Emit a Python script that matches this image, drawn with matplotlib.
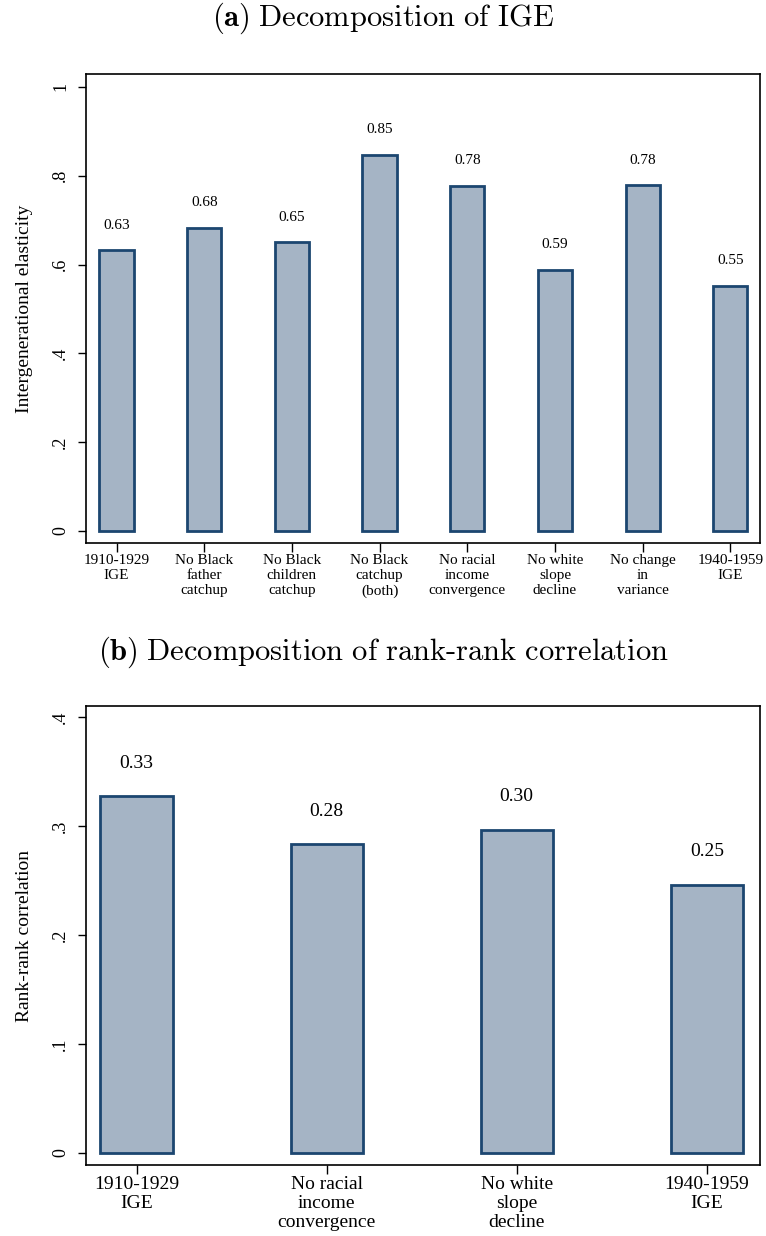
import matplotlib
matplotlib.use("Agg")
import matplotlib.pyplot as plt

# panel (a): IGE decomposition
ige_labels = ["1910-1929\nIGE", "No Black\nfather\ncatchup", "No Black\nchildren\ncatchup",
              "No Black\ncatchup\n(both)", "No racial\nincome\nconvergence", "No white\nslope\ndecline",
              "No change\nin\nvariance", "1940-1959\nIGE"]
ige_values = [0.632, 0.683, 0.650, 0.847, 0.777, 0.588, 0.778, 0.552]

# panel (b): rank-rank correlation decomposition
rank_labels = ["1910-1929\nIGE", "No racial\nincome\nconvergence", "No white\nslope\ndecline", "1940-1959\nIGE"]
rank_values = [0.327, 0.283, 0.296, 0.246]

plt.rcParams['font.family'] = ['Liberation Serif', 'DejaVu Serif']
plt.rcParams['mathtext.fontset'] = 'cm'

fill = '#a5b4c5'
edge = '#1c4670'

fig = plt.figure(figsize=(7.66, 12.36), dpi=100)
W, H = 766, 1236

def axes_px(x0, y0, x1, y1):
    return fig.add_axes([x0 / W, 1 - y1 / H, (x1 - x0) / W, (y1 - y0) / H])

def style(ax):
    for s in ax.spines.values():
        s.set_linewidth(1.2)
        s.set_color('black')
    ax.tick_params(axis='x', direction='out', length=6.5, width=1, pad=1.5)
    ax.tick_params(axis='y', direction='out', length=6, width=1, pad=6, rotation=90)
    for t in ax.get_yticklabels():
        t.set_va('center')

# ---- (a)
ax1 = axes_px(86, 74, 760, 543)
x = range(len(ige_values))
ax1.bar(x, ige_values, width=0.39, color=fill, edgecolor=edge, linewidth=2)
for i, v in enumerate(ige_values):
    ax1.annotate(f"{v:.2f}", (i, v), xytext=(0, 18), textcoords='offset points',
                 ha='center', va='center', fontsize=11)
ax1.set_xlim(-0.348, 7.338)
ax1.set_ylim(-0.027, 1.029)
ax1.set_yticks([0, 0.2, 0.4, 0.6, 0.8, 1.0])
ax1.set_yticklabels(["0", ".2", ".4", ".6", ".8", "1"], fontsize=13)
ax1.set_xticks(list(x))
ax1.set_xticklabels(ige_labels, fontsize=11, linespacing=1.2)
ax1.set_ylabel("Intergenerational elasticity", fontsize=14, labelpad=14)
style(ax1)
fig.text(0.5, 1 - 18 / H, r"$\mathbf{(a)}$ $\mathrm{Decomposition\ of\ IGE}$",
         ha='center', va='center', fontsize=22)

# ---- (b)
ax2 = axes_px(86, 706, 760, 1165)
x2 = range(len(rank_values))
ax2.bar(x2, rank_values, width=0.38, color=fill, edgecolor=edge, linewidth=2)
for i, v in enumerate(rank_values):
    ax2.annotate(f"{v:.2f}", (i, v), xytext=(0, 24), textcoords='offset points',
                 ha='center', va='center', fontsize=14)
ax2.set_xlim(-0.266, 3.28)
ax2.set_ylim(-0.011, 0.41)
ax2.set_yticks([0, 0.1, 0.2, 0.3, 0.4])
ax2.set_yticklabels(["0", ".1", ".2", ".3", ".4"], fontsize=13)
ax2.set_xticks(list(x2))
ax2.set_xticklabels(rank_labels, fontsize=14, linespacing=1.15)
ax2.set_ylabel("Rank-rank correlation", fontsize=14, labelpad=14)
style(ax2)
fig.text(0.5, 1 - 652 / H, r"$\mathbf{(b)}$ $\mathrm{Decomposition\ of\ rank\text{-}rank\ correlation}$",
         ha='center', va='center', fontsize=22)

fig.savefig("out.png", dpi=100)
